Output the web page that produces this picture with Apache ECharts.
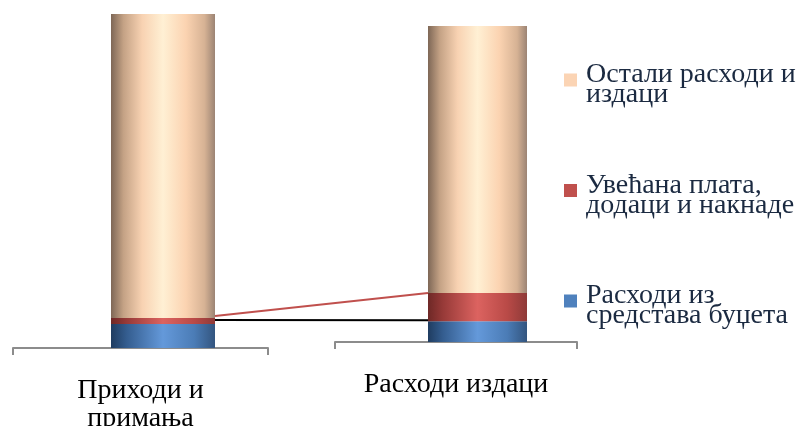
<!DOCTYPE html>
<html>
<head>
<meta charset="utf-8">
<script src="https://cdn.jsdelivr.net/npm/echarts@6/dist/echarts.min.js"></script>
<style>
html,body{margin:0;padding:0;background:#fff;}
#main{width:797px;height:426px;}
</style>
</head>
<body>
<div id="main"></div>
<script>
// ---- data ----
const categories = ['Приходи и\nпримања', 'Расходи издаци'];
const seriesNames = ['Остали расходи и\nиздаци', 'Увећана плата,\nдодаци и накнаде', 'Расходи из\nсредстава буџета'];
const budgetValues = [7.2, 6.6];   // Расходи из средстава буџета (% of bar)
const raiseValues = [1.8, 8.9];    // Увећана плата, додаци и накнаде
const otherValues = [91.0, 84.5];  // Остали расходи и издаци

const legendColors = ['#fbd4b4', '#c0504d', '#4f81bd'];
function grad(stops) {
  return { type: 'linear', x: 0, y: 0, x2: 1, y2: 0,
    colorStops: stops.map(s => ({ offset: s[0], color: s[1] })) };
}
const peachGrad = grad([[0,'#7e6756'],[0.12,'#c4a285'],[0.3,'#f8d2b2'],[0.5,'#fff0d4'],[0.72,'#fbd3b1'],[0.9,'#d6b294'],[1,'#9c8474']]);
const redGrad = grad([[0,'#6e2826'],[0.15,'#973a38'],[0.5,'#dc6360'],[0.8,'#b94a47'],[1,'#8e3a38']]);
const blueGrad = grad([[0,'#1f3c60'],[0.15,'#345d8f'],[0.5,'#6499da'],[0.8,'#4b7cb6'],[1,'#33557f']]);

const font = 'Liberation Serif';
const chart = echarts.init(document.getElementById('main'), null, { renderer: 'canvas' });

function axisX(idx, cat, margin) {
  return {
    type: 'category', gridIndex: idx, data: [cat],
    axisLine: { show: true, lineStyle: { color: '#8c8c8c', width: 2 } },
    axisTick: { show: true, length: 7, lineStyle: { color: '#8c8c8c', width: 2 } },
    axisLabel: { show: true, fontFamily: font, fontSize: 28, lineHeight: 28, color: '#000', margin: margin }
  };
}
function hiddenX(idx, cat) {
  return { type: 'category', gridIndex: idx, data: [cat], show: false };
}
function hiddenY(idx) {
  return { type: 'value', gridIndex: idx, min: 0, max: 100, show: false };
}

const barWidths = [104, 99];
const option = {
  animation: false,
  backgroundColor: '#fff',
  grid: [
    { left: 13, top: 14, width: 255, height: 334, containLabel: false, outerBoundsMode: 'none' },     // left axis
    { left: 35.5, top: 14, width: 255, height: 334, containLabel: false, outerBoundsMode: 'none' },   // left bar
    { left: 335, top: 26, width: 242, height: 316, containLabel: false, outerBoundsMode: 'none' },    // right axis
    { left: 356.5, top: 26, width: 242, height: 316, containLabel: false, outerBoundsMode: 'none' }   // right bar
  ],
  xAxis: [
    axisX(0, categories[0], 29),
    hiddenX(1, categories[0]),
    axisX(2, categories[1], 29),
    hiddenX(3, categories[1])
  ],
  yAxis: [hiddenY(0), hiddenY(1), hiddenY(2), hiddenY(3)],
  legend: {
    orient: 'vertical', left: 564, top: 61, padding: 0,
    itemWidth: 13, itemHeight: 23, itemGap: 62.5,
    icon: 'path://M0,0H13V13H0Z M0,23L0.001,23',
    textStyle: { fontFamily: font, fontSize: 28, lineHeight: 20, color: '#1b2a41', padding: [0, 0, 0, 4] },
    data: seriesNames.map((n, i) => ({ name: n, itemStyle: { color: legendColors[i] } }))
  },
  series: []
};
[1, 3].forEach((g, k) => {
  const stack = 's' + g;
  option.series.push(
    { name: seriesNames[2], type: 'bar', xAxisIndex: g, yAxisIndex: g, stack, barWidth: barWidths[k],
      data: [budgetValues[k]], itemStyle: { color: blueGrad } },
    { name: seriesNames[1], type: 'bar', xAxisIndex: g, yAxisIndex: g, stack, barWidth: barWidths[k],
      data: [raiseValues[k]], itemStyle: { color: redGrad } },
    { name: seriesNames[0], type: 'bar', xAxisIndex: g, yAxisIndex: g, stack, barWidth: barWidths[k],
      data: [otherValues[k]], itemStyle: { color: peachGrad } }
  );
});
chart.setOption(option);

// series lines connecting segment tops, computed through the axes' scales
const pL1 = chart.convertToPixel({ xAxisIndex: 1, yAxisIndex: 1 }, [0, budgetValues[0]]);
const pR1 = chart.convertToPixel({ xAxisIndex: 3, yAxisIndex: 3 }, [0, budgetValues[1]]);
const pL2 = chart.convertToPixel({ xAxisIndex: 1, yAxisIndex: 1 }, [0, budgetValues[0] + raiseValues[0]]);
const pR2 = chart.convertToPixel({ xAxisIndex: 3, yAxisIndex: 3 }, [0, budgetValues[1] + raiseValues[1]]);
chart.setOption({
  graphic: [
    { type: 'line', z: 10, shape: { x1: pL1[0] + barWidths[0] / 2, y1: pL1[1] - 4, x2: pR1[0] - barWidths[1] / 2, y2: pR1[1] - 1 },
      style: { stroke: '#000', lineWidth: 2 } },
    { type: 'line', z: 10, shape: { x1: pL2[0] + barWidths[0] / 2, y1: pL2[1] - 2, x2: pR2[0] - barWidths[1] / 2, y2: pR2[1] },
      style: { stroke: '#c0504d', lineWidth: 2 } }
  ]
});
</script>
</body>
</html>
